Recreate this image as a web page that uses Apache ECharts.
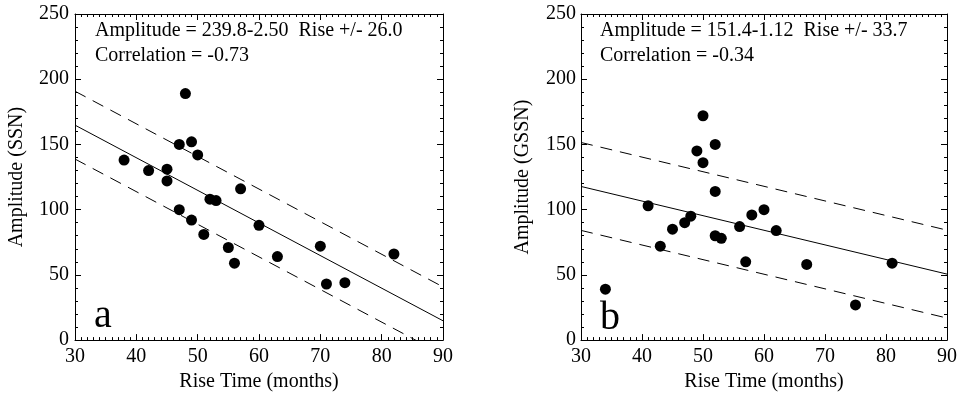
<!DOCTYPE html>
<html><head><meta charset="utf-8">
<script src="https://cdn.jsdelivr.net/npm/echarts@6/dist/echarts.min.js"></script>
<style>html,body{margin:0;padding:0;background:#fff}#c{width:960px;height:397px}</style>
</head><body><div id="c"></div>
<script>
// Panel a (SSN)
var riseA = [38,42,45,45,47,48,49,50,57,52,53,47,49,51,55,56,60,63,70,71,74,82];
var ampA  = [138,130,131,122,150,189,152,142,116,108,107,100,92,81,71,59,88,64,72,43,44,66];
var fitA   = [[30,164.8],[90,14.8]];
var upperA = [[30,190.8],[90,40.8]];
var lowerA = [[30,138.8],[90,-11.2]];
// Panel b (GSSN)
var riseB = [34,41,43,45,47,48,49,50,50,52,52,52,53,56,57,58,60,62,67,75,81];
var ampB  = [39,103,72,85,90,95,145,172,136,150,114,80,78,87,60,96,100,84,58,27,59];
var fitB   = [[30,117.8],[90,50.6]];
var upperB = [[30,151.5],[90,84.3]];
var lowerB = [[30,84.1],[90,16.9]];
var xTicks = [30,40,50,60,70,80,90];
var yTicks = [0,50,100,150,200,250];
var textA = ['Amplitude = 239.8-2.50  Rise +/- 26.0','Correlation = -0.73'];
var textB = ['Amplitude = 151.4-1.12  Rise +/- 33.7','Correlation = -0.34'];

var FONT = 'Liberation Serif';
function pairs(xs, ys){ return xs.map(function(x,i){return [x, ys[i]];}); }
function xAx(gi, main){
  return {type:'value', gridIndex:gi, min:xTicks[0], max:xTicks[xTicks.length-1], interval:10,
    position: main ? 'bottom':'top',
    name: main ? 'Rise Time (months)' : '', nameLocation:'middle', nameGap:23,
    nameTextStyle:{fontFamily:FONT,fontSize:20,color:'#000'},
    axisLine:{show:true,onZero:false,lineStyle:{color:'#000',width:1}},
    axisTick:{show:true,inside:true,length:6,lineStyle:{color:'#000'}},
    minorTick:{show:true,splitNumber:10,length:3,lineStyle:{color:'#000'}},
    axisLabel:{show:main,fontFamily:FONT,fontSize:20,color:'#000',margin:7},
    splitLine:{show:false}};
}
function yAx(gi, main, name, margin){
  return {type:'value', gridIndex:gi, min:yTicks[0], max:yTicks[yTicks.length-1], interval:50,
    position: main ? 'left':'right',
    name: main ? name : '', nameLocation:'middle', nameGap:48,
    nameTextStyle:{fontFamily:FONT,fontSize:20,color:'#000'},
    axisLine:{show:true,onZero:false,lineStyle:{color:'#000',width:1}},
    axisTick:{show:true,inside:true,length:6,lineStyle:{color:'#000'}},
    minorTick:{show:true,splitNumber:5,length:3,lineStyle:{color:'#000'}},
    axisLabel:{show:main,fontFamily:FONT,fontSize:20,color:'#000',margin:margin||5},
    splitLine:{show:false}};
}
function lineS(xi, yi, data, dashed){
  return {type:'line', xAxisIndex:xi, yAxisIndex:yi, data:data, symbol:'none', clip:true,
    lineStyle:{color:'#000',width:1,type: dashed ? [12,8] : 'solid'}, silent:true, z:2};
}
function txt(x,y,s,size){
  return {type:'text', left:x, top:y, style:{text:s, fontFamily:FONT, fontSize:size, fill:'#000'}};
}
var chart = echarts.init(document.getElementById('c'), null, {renderer:'canvas'});
chart.setOption({
  animation:false,
  backgroundColor:'#fff',
  grid:[{left:75,top:14,width:368,height:329},{left:581,top:14,width:369,height:329}],
  xAxis:[xAx(0,true),xAx(0,false),xAx(1,true),xAx(1,false)],
  yAxis:[yAx(0,true,'Amplitude (SSN)',6),yAx(0,false),yAx(1,true,'Amplitude (GSSN)',5),yAx(1,false)],
  series:[
    lineS(0,0,fitA,false), lineS(0,0,upperA,true), lineS(0,0,lowerA,true),
    {type:'scatter',xAxisIndex:0,yAxisIndex:0,data:pairs(riseA,ampA),symbol:'circle',symbolSize:11,itemStyle:{color:'#000',opacity:1},z:3},
    lineS(2,2,fitB,false), lineS(2,2,upperB,true), lineS(2,2,lowerB,true),
    {type:'scatter',xAxisIndex:2,yAxisIndex:2,data:pairs(riseB,ampB),symbol:'circle',symbolSize:11,itemStyle:{color:'#000',opacity:1},z:3}
  ],
  graphic:[
    txt(95,21,textA[0],20), txt(95,46,textA[1],20),
    txt(600,21,textB[0],20), txt(600,46,textB[1],20),
    txt(94,296,'a',40), txt(600,298,'b',40)
  ]
});
</script></body></html>
